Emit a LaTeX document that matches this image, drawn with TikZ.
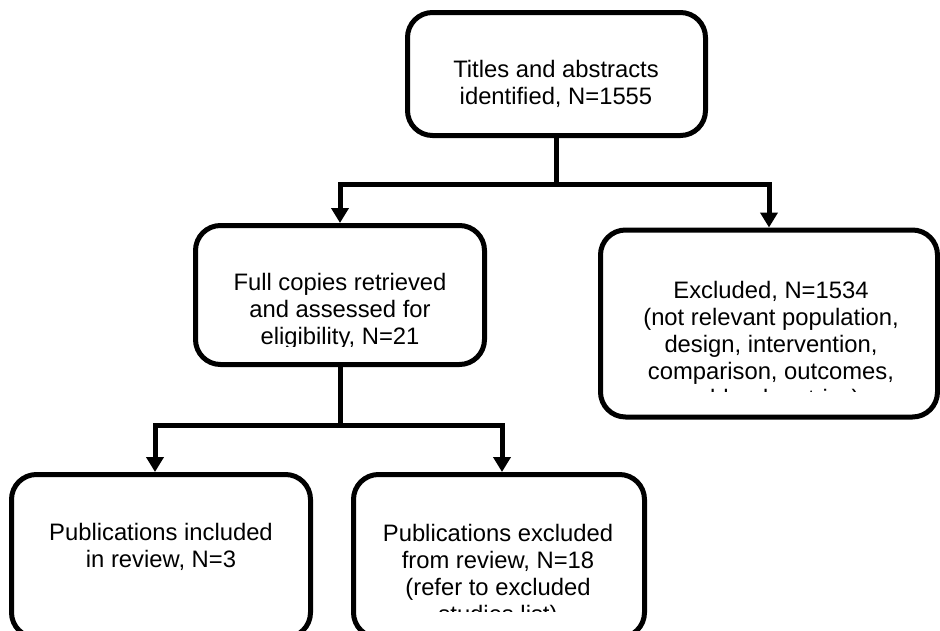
\documentclass[tikz,border=0pt]{standalone}
\usepackage{fontspec}
\setmainfont{Liberation Sans}
\usetikzlibrary{calc, arrows.meta}

\begin{document}
\begin{tikzpicture}[x=1pt, y=-1pt,
            box/.style={draw, line width=5pt, rounded corners=25pt, inner sep=0pt},
            txt/.style={anchor=north, align=center, inner sep=0pt, font=\fontsize{23.8}{27}\selectfont},
            arr/.style={line width=5pt, -{Triangle[width=17pt, length=15pt]}}
        ]
        \clip (0,0) rectangle (940,630);

        % boxes
        \node[box, minimum width=298pt, minimum height=123pt] (titles) at (556.5,74) {};
        \node[box, minimum width=289pt, minimum height=139pt] (full) at (340,295) {};
        \node[box, minimum width=337pt, minimum height=187pt] (excl) at (769,323.5) {};
        \node[box, minimum width=299pt, minimum height=163pt] (incl) at (161,556) {};
        \node[box, minimum width=291pt, minimum height=163pt] (pubexcl) at (499,556) {};

        % texts
        \node[txt] (titles-text) at (556,58.1) {\strut Titles and abstracts\\identified, N=1555};
        \begin{scope}
            \clip (195,225) rectangle (485,346);
            \node[txt] (full-text) at (340,271.1) {\strut Full copies retrieved\\and assessed for\\eligibility, N=21};
        \end{scope}
        \begin{scope}
            \clip (600,230) rectangle (937,391.5);
            \node[txt] (excl-text) at (771,279.1) {\strut Excluded, N=1534\\(not relevant population,\\design, intervention,\\comparison, outcomes,\\or blood metrics)};
        \end{scope}
        \node[txt] (incl-text) at (161,521.1) {\strut Publications included\\in review, N=3};
        \begin{scope}
            \clip (353,474) rectangle (644,611.5);
            \node[txt] (pubexcl-text) at (498,522.1) {\strut Publications excluded\\from review, N=18\\(refer to excluded\\studies list)};
        \end{scope}

        % connectors
        \draw[line width=5pt] (titles.south) -- ++(0,46) coordinate (split1);
        \draw[arr] (split1) -| (full.north);
        \draw[arr] (split1) -| (excl.north);
        \draw[line width=5pt] (full.south) -- ++(0,58) coordinate (split2);
        \draw[arr] (split2) -| ([xshift=-6pt]incl.north);
        \draw[arr] (split2) -| ([xshift=3pt]pubexcl.north);
    \end{tikzpicture}
\end{document}
